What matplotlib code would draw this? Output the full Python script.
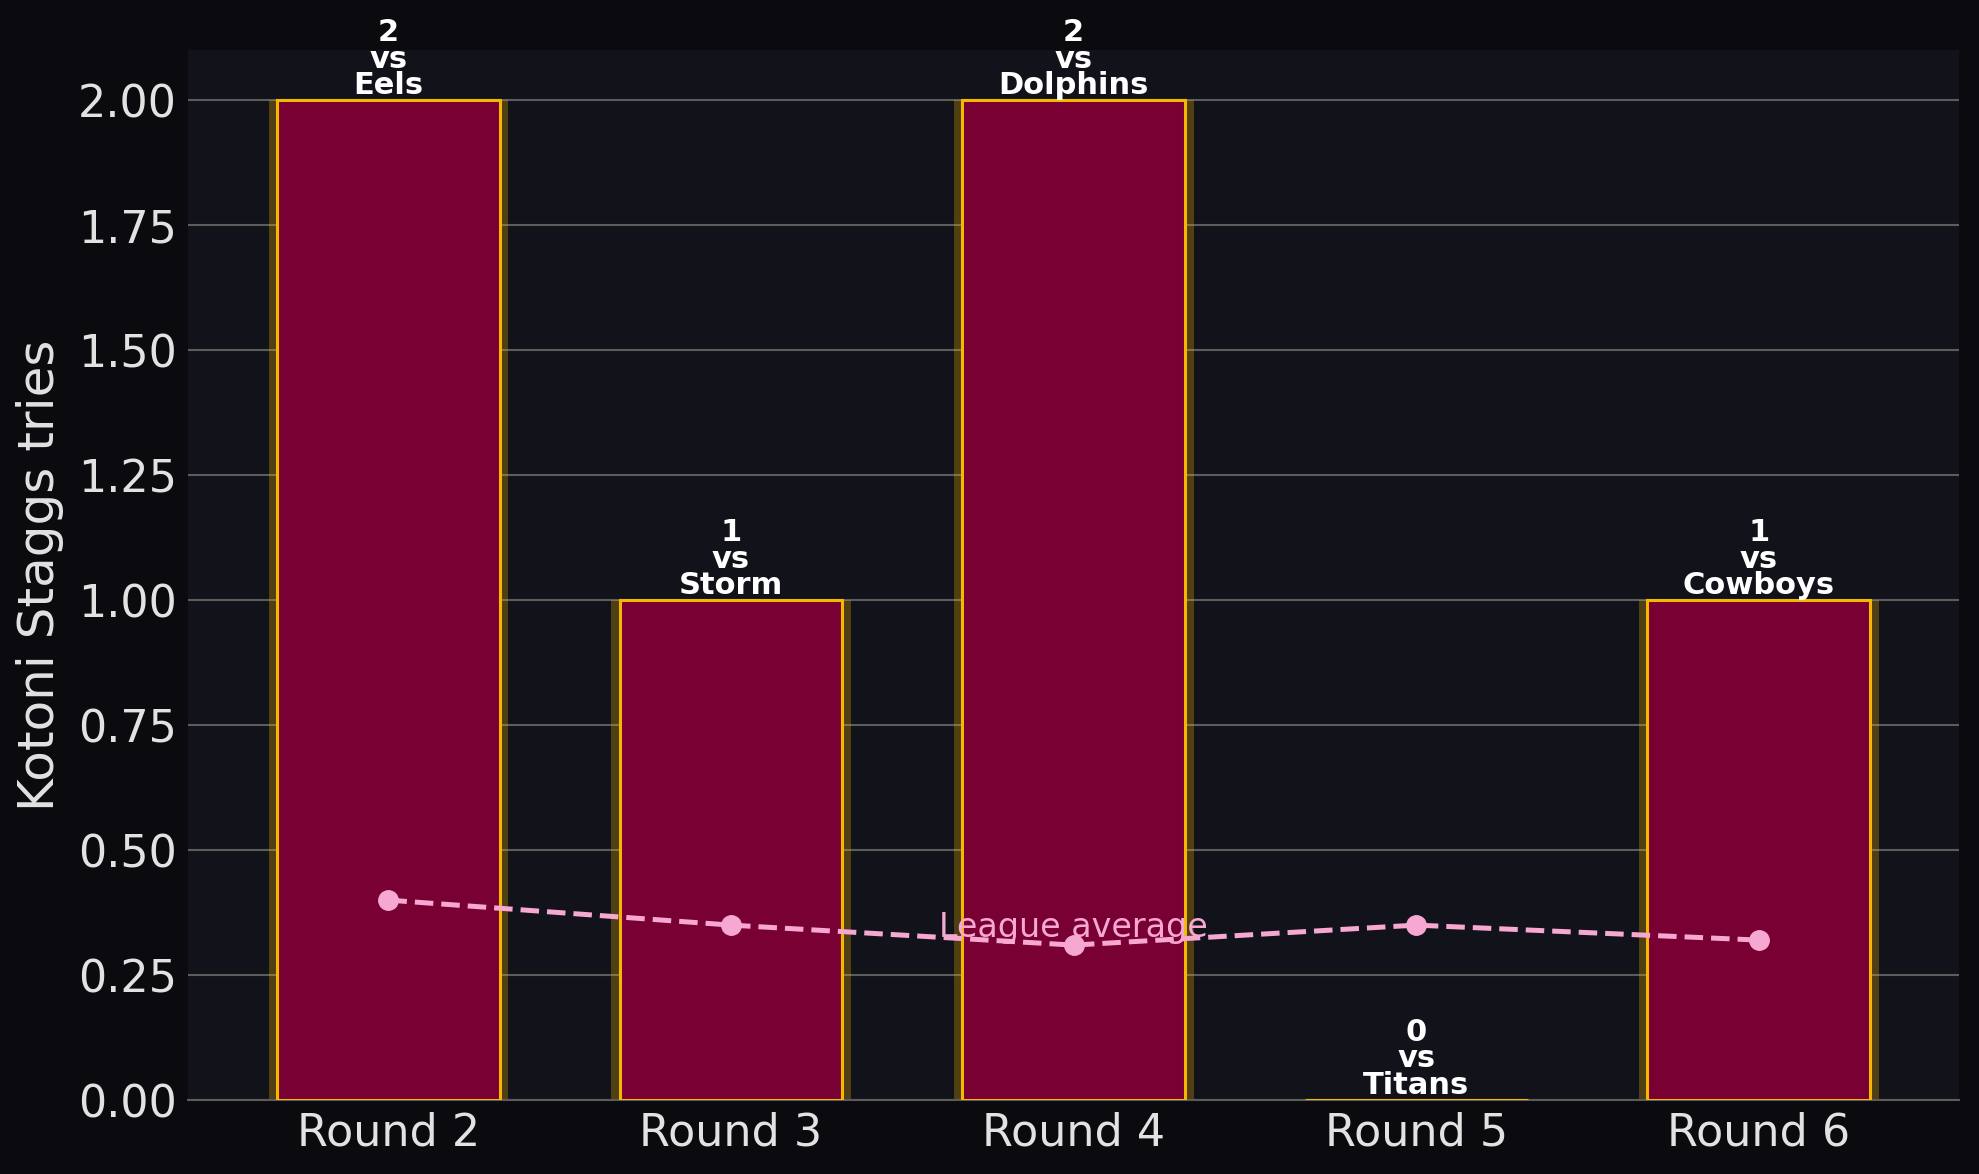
import matplotlib
matplotlib.use("Agg")
import matplotlib.pyplot as plt

# Data
rounds = ["Round 2", "Round 3", "Round 4", "Round 5", "Round 6"]
opponents = ["Eels", "Storm", "Dolphins", "Titans", "Cowboys"]
tries = [2, 1, 2, 0, 1]
league_avg = [0.40, 0.35, 0.31, 0.35, 0.32]

# Colours
fig_bg = "#0b0b0f"
ax_bg = "#12131a"
bar_col = "#780032"
gold = "#f5b800"
pink = "#f7a8d2"
text_col = "#e2e2e2"

fig, ax = plt.subplots(figsize=(19.79, 11.74), dpi=100)
fig.patch.set_facecolor(fig_bg)
ax.set_facecolor(ax_bg)

x = list(range(len(rounds)))

# glow behind bars, then the bars themselves
ax.bar(x, tries, width=0.70, color=gold, alpha=0.27, linewidth=0, zorder=2)
ax.bar(x, tries, width=0.65, color=bar_col, edgecolor=gold, linewidth=2.2, zorder=3)

# labels above bars
for xi, t, opp in zip(x, tries, opponents):
    ax.text(xi, t, f"{t}\nvs\n{opp}", ha="center", va="bottom",
            color="white", fontsize=22, fontweight="bold", linespacing=0.9, zorder=5)

# league average line
ax.plot(x, league_avg, color=pink, linestyle="--", linewidth=3.6,
        marker="o", markersize=14, zorder=4)
ax.text(sum(x) / len(x), sum(league_avg) / len(league_avg), "League average",
        ha="center", va="center", color=pink, fontsize=24, zorder=5)

ax.set_xticks(x)
ax.set_xticklabels(rounds)
ax.set_ylabel("Kotoni Staggs tries", fontsize=36, color=text_col, labelpad=10)
ax.tick_params(axis="both", length=0, labelsize=32, colors=text_col, pad=8)
ax.yaxis.set_major_formatter(matplotlib.ticker.FormatStrFormatter("%.2f"))

ax.grid(axis="y", color="#5c5c5c", linewidth=1.5, zorder=0)
ax.set_axisbelow(True)
for side in ["top", "right", "left"]:
    ax.spines[side].set_visible(False)
ax.spines["bottom"].set_color("#5c5c5c")
ax.spines["bottom"].set_linewidth(1.5)

plt.subplots_adjust(left=0.095, right=0.990, top=0.957, bottom=0.063)
plt.savefig("out.png", facecolor=fig_bg)
